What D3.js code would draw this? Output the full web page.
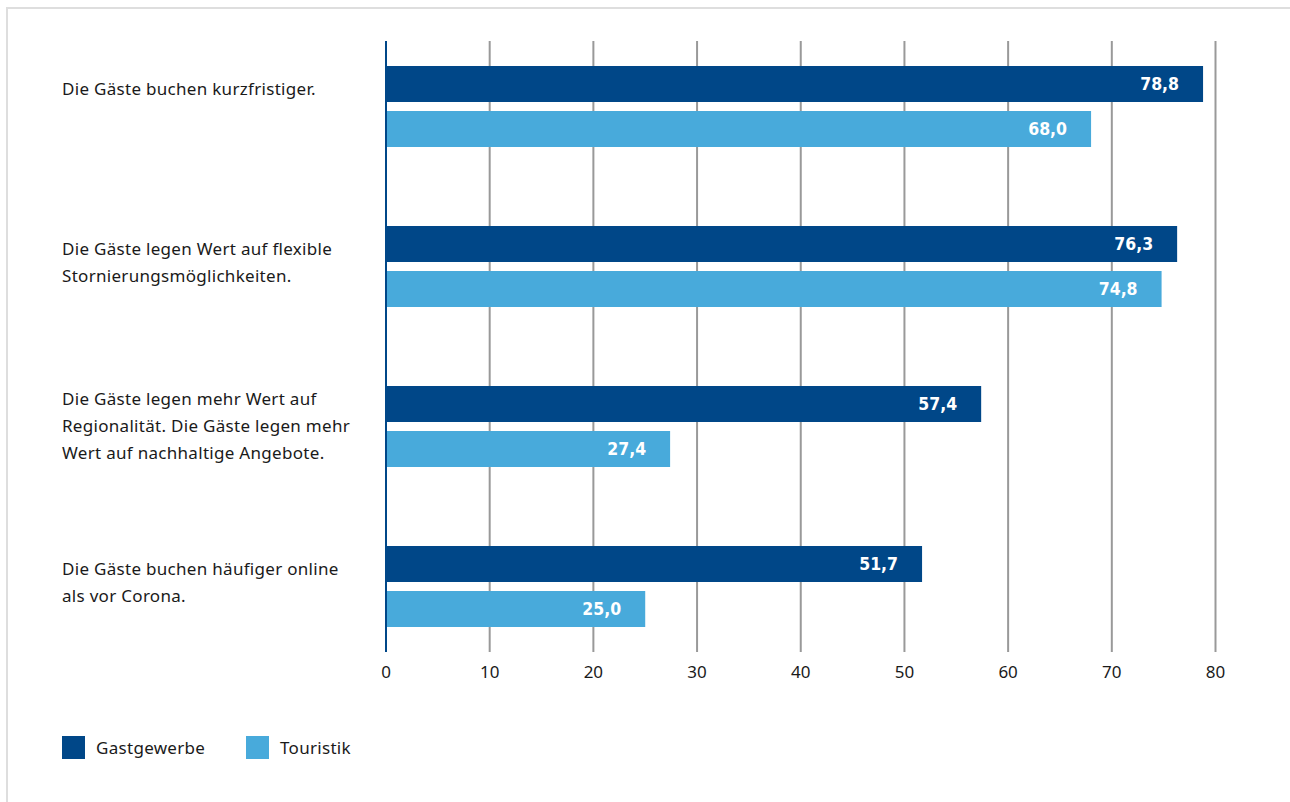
<!DOCTYPE html>
<html>
<head>
<meta charset="utf-8">
<script src="https://cdn.jsdelivr.net/npm/d3@7"></script>
<style>
  body { margin: 0; background: #fff; }
  svg { display: block; font-family: "Noto Sans", "DejaVu Sans", sans-serif; }
  .val { font-family: "DejaVu Sans Condensed", "DejaVu Sans", sans-serif; }
  .lbl { letter-spacing: 0.3px; }
</style>
</head>
<body>
<div id="chart"></div>
<script>
const categories = [
  ["Die Gäste buchen kurzfristiger."],
  ["Die Gäste legen Wert auf flexible", "Stornierungsmöglichkeiten."],
  ["Die Gäste legen mehr Wert auf", "Regionalität. Die Gäste legen mehr", "Wert auf nachhaltige Angebote."],
  ["Die Gäste buchen häufiger online", "als vor Corona."]
];
const seriesNames = ["Gastgewerbe", "Touristik"];
const gastgewerbe = [78.8, 76.3, 57.4, 51.7];
const touristik = [68.0, 74.8, 27.4, 25.0];
const ticks = [0, 10, 20, 30, 40, 50, 60, 70, 80];

const width = 1290, height = 802;
const colors = ["#004788", "#48aadb"];

const svg = d3.select("#chart").append("svg")
  .attr("width", width)
  .attr("height", height);

// frame
svg.append("path")
  .attr("d", `M7,${height} V8 H${width}`)
  .attr("fill", "none")
  .attr("stroke", "#dedede")
  .attr("stroke-width", 2);

const x = d3.scaleLinear().domain([0, 80]).range([386, 1215.5]);

const groupStep = 160, firstTop = 66, barH = 36, barGap = 9;
const gridTop = 41, gridBottom = 652;

// grid
svg.append("g")
  .selectAll("line")
  .data(ticks.slice(1))
  .join("line")
  .attr("x1", d => x(d)).attr("x2", d => x(d))
  .attr("y1", gridTop).attr("y2", gridBottom)
  .attr("stroke", "#999")
  .attr("stroke-width", 2);

// tick labels
svg.append("g")
  .selectAll("text")
  .data(ticks)
  .join("text")
  .attr("x", d => x(d))
  .attr("y", 672)
  .attr("dy", "0.35em")
  .attr("text-anchor", "middle")
  .attr("font-size", 17)
  .attr("fill", "#1a1a1a")
  .text(d => d);

const rows = categories.map((c, i) => ({
  lines: c,
  top: firstTop + i * groupStep,
  values: [gastgewerbe[i], touristik[i]]
}));

const group = svg.append("g")
  .selectAll("g")
  .data(rows)
  .join("g");

group.selectAll("rect")
  .data(d => d.values.map((v, j) => ({ v, j, top: d.top })))
  .join("rect")
  .attr("x", x(0))
  .attr("y", d => d.top + d.j * (barH + barGap))
  .attr("width", d => x(d.v) - x(0))
  .attr("height", barH)
  .attr("fill", d => colors[d.j]);

group.selectAll("text.val")
  .data(d => d.values.map((v, j) => ({ v, j, top: d.top })))
  .join("text")
  .attr("class", "val")
  .attr("x", d => x(d.v) - 24)
  .attr("y", d => d.top + d.j * (barH + barGap) + barH / 2)
  .attr("dy", "0.35em")
  .attr("text-anchor", "end")
  .attr("font-size", 17.5)
  .attr("font-weight", "bold")
  .attr("fill", "#fff")
  .text(d => d.v.toFixed(1).replace(".", ","));

// category labels
const lineH = 27;
group.append("text")
  .attr("class", "lbl")
  .attr("font-size", 17)
  .attr("fill", "#1a1a1a")
  .each(function (d) {
    const center = d.top + barH + barGap / 2;
    const firstY = Math.min(d.top + 23, center - (d.lines.length - 1) * lineH / 2);
    d3.select(this).selectAll("tspan")
      .data(d.lines)
      .join("tspan")
      .attr("x", 62)
      .attr("y", (l, k) => firstY + k * lineH)
      .attr("dy", "0.35em")
      .text(l => l);
  });

// zero axis line
svg.append("line")
  .attr("x1", x(0)).attr("x2", x(0))
  .attr("y1", gridTop).attr("y2", gridBottom)
  .attr("stroke", "#004788")
  .attr("stroke-width", 2);

// legend
const legendX = [62, 246];
const legend = svg.append("g")
  .selectAll("g")
  .data(seriesNames)
  .join("g")
  .attr("transform", (d, i) => `translate(${legendX[i]},736)`);

legend.append("rect")
  .attr("width", 23)
  .attr("height", 23)
  .attr("fill", (d, i) => colors[i]);

legend.append("text")
  .attr("class", "lbl")
  .attr("x", 34)
  .attr("y", 12)
  .attr("dy", "0.35em")
  .attr("font-size", 17)
  .attr("fill", "#1a1a1a")
  .text(d => d);
</script>
</body>
</html>
